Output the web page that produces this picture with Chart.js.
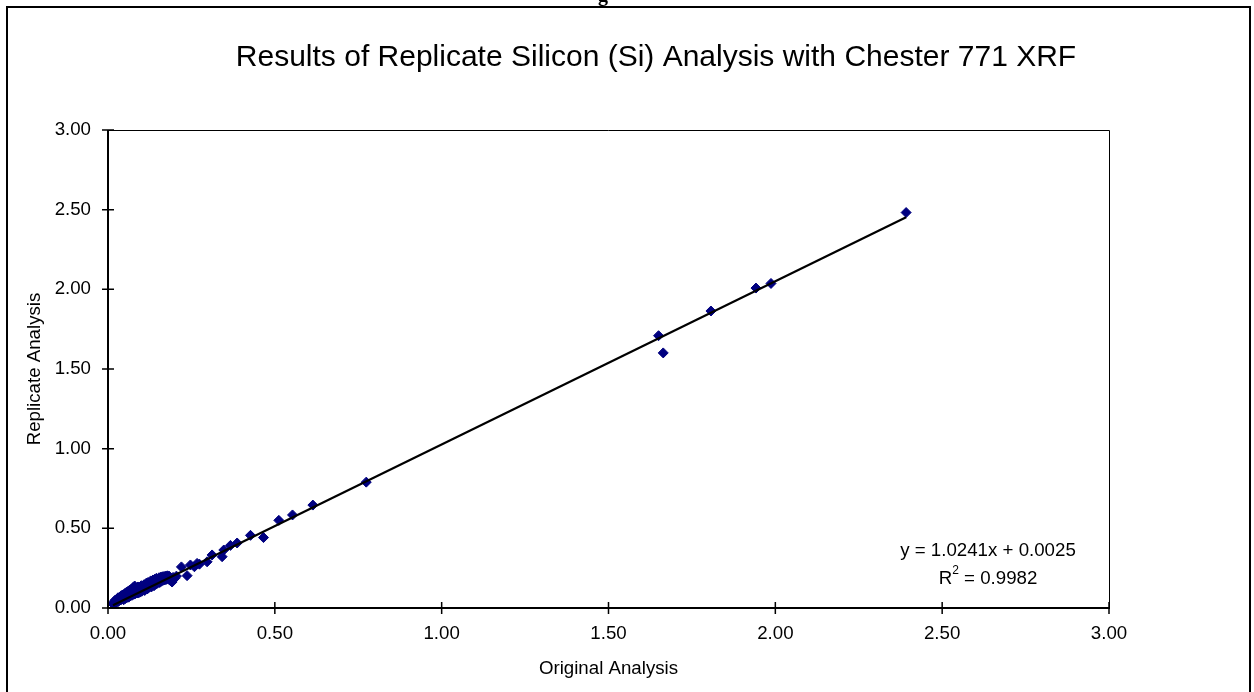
<!DOCTYPE html>
<html>
<head>
<meta charset="utf-8">
<title>Replicate Silicon (Si) Analysis</title>
<script src="https://cdn.jsdelivr.net/npm/chart.js@4.4.1/dist/chart.umd.min.js"></script>
<style>
  html, body { margin: 0; padding: 0; background: #fff; }
  canvas { display: block; }
</style>
</head>
<body>
<canvas id="c" width="1254" height="692"></canvas>
<script>
// Original vs. replicate Si results (same samples, two runs on the XRF)
const originalAnalysis = [
  0.015, 0.018, 0.020, 0.022, 0.025, 0.027, 0.030, 0.030, 0.033, 0.035,
  0.038, 0.040, 0.042, 0.045, 0.047, 0.050, 0.052, 0.055, 0.057, 0.060,
  0.062, 0.065, 0.067, 0.070, 0.072, 0.075, 0.077, 0.080, 0.082, 0.085,
  0.087, 0.090, 0.092, 0.095, 0.097, 0.100, 0.102, 0.105, 0.108, 0.110,
  0.112, 0.115, 0.118, 0.120, 0.122, 0.125, 0.128, 0.130, 0.133, 0.135,
  0.138, 0.140, 0.143, 0.145, 0.148, 0.150, 0.153, 0.155, 0.158, 0.160,
  0.163, 0.165, 0.168, 0.170, 0.173, 0.175, 0.178, 0.180, 0.183, 0.185,
  0.190, 0.192, 0.195, 0.200, 0.205, 0.220, 0.237, 0.247, 0.259, 0.267,
  0.274, 0.297, 0.312, 0.342, 0.347, 0.367, 0.387, 0.427, 0.466, 0.512,
  0.553, 0.614, 0.774, 1.650, 1.664, 1.807, 1.942, 1.987, 2.392
];
const replicateAnalysis = [
  0.025, 0.040, 0.030, 0.050, 0.036, 0.056, 0.040, 0.064, 0.046, 0.068,
  0.050, 0.078, 0.056, 0.082, 0.052, 0.090, 0.060, 0.098, 0.066, 0.104,
  0.068, 0.112, 0.076, 0.118, 0.080, 0.128, 0.086, 0.138, 0.090, 0.122,
  0.094, 0.132, 0.095, 0.125, 0.100, 0.140, 0.106, 0.130, 0.146, 0.110,
  0.138, 0.156, 0.120, 0.160, 0.128, 0.150, 0.170, 0.132, 0.158, 0.176,
  0.140, 0.180, 0.150, 0.186, 0.155, 0.176, 0.190, 0.160, 0.193, 0.168,
  0.196, 0.174, 0.198, 0.176, 0.200, 0.180, 0.202, 0.184, 0.200, 0.175,
  0.170, 0.163, 0.192, 0.186, 0.200, 0.258, 0.203, 0.270, 0.259, 0.280,
  0.275, 0.290, 0.333, 0.322, 0.364, 0.393, 0.408, 0.456, 0.442, 0.550,
  0.584, 0.646, 0.790, 1.709, 1.601, 1.864, 2.008, 2.037, 2.482
];

// Axis ticks (both axes share the same range)
const tickValues = [0.0, 0.5, 1.0, 1.5, 2.0, 2.5, 3.0];
const tickLabels = ['0.00', '0.50', '1.00', '1.50', '2.00', '2.50', '3.00'];

// Linear trendline reported for the data
const fitSlope = 1.0241;
const fitIntercept = 0.0025;
const fitRSquared = 0.9982;

const titleText = 'Results of Replicate Silicon (Si) Analysis with Chester 771 XRF';
const xTitleText = 'Original Analysis';
const yTitleText = 'Replicate Analysis';

const FONT = '"Liberation Sans", Arial, sans-serif';
const SMALL = 18.7;

const points = originalAnalysis.map((x, i) => ({ x: x, y: replicateAnalysis[i] }));
const xMin = Math.min(...originalAnalysis);
const xMax = Math.max(...originalAnalysis);
const trend = [
  { x: xMin, y: fitSlope * xMin + fitIntercept },
  { x: xMax, y: fitSlope * xMax + fitIntercept }
];

// Frame, axes with crossing tick marks, titles and the fit equation
const decorations = {
  id: 'decorations',
  beforeDraw(chart) {
    const c = chart.ctx;
    c.save();
    c.fillStyle = '#fff';
    c.fillRect(0, 0, chart.width, chart.height);
    c.restore();
  },
  afterDatasetsDraw(chart) {
    const c = chart.ctx;
    const xs = chart.scales.x, ys = chart.scales.y;
    const a = chart.chartArea;
    c.save();
    // plot area outline (top and right)
    c.strokeStyle = '#000';
    c.lineWidth = 1;
    c.beginPath();
    c.moveTo(a.left, a.top + 0.5);
    c.lineTo(a.right + 0.5, a.top + 0.5);
    c.lineTo(a.right + 0.5, a.bottom);
    c.stroke();
    // axes
    c.lineWidth = 2;
    c.beginPath();
    c.moveTo(a.left, a.top);
    c.lineTo(a.left, a.bottom);
    c.lineTo(a.right + 1, a.bottom);
    c.stroke();
    // tick marks crossing the axes
    c.lineWidth = 1.5;
    c.beginPath();
    tickValues.forEach(v => {
      const px = xs.getPixelForValue(v);
      c.moveTo(px, a.bottom - 6);
      c.lineTo(px, a.bottom + 6);
      const py = ys.getPixelForValue(v);
      c.moveTo(a.left - 6, py);
      c.lineTo(a.left + 6, py);
    });
    c.stroke();
    c.restore();
  },
  afterDraw(chart) {
    const c = chart.ctx;
    const a = chart.chartArea;
    c.save();
    // outer chart border
    c.strokeStyle = '#000';
    c.lineWidth = 2;
    c.strokeRect(7, 7, 1243, 700);

    // heading text above the chart border
    c.fillStyle = '#000';
    c.font = 'bold 20px "Liberation Serif", serif';
    c.textAlign = 'center';
    c.textBaseline = 'alphabetic';
    c.fillText('g', 603, 1);

    // chart title
    c.font = '30px ' + FONT;
    c.textAlign = 'center';
    c.textBaseline = 'middle';
    c.fillText(titleText, 656, 58);

    // axis titles
    c.font = SMALL + 'px ' + FONT;
    c.fillText(xTitleText, (a.left + a.right) / 2, 669);
    c.save();
    c.translate(35, (a.top + a.bottom) / 2);
    c.rotate(-Math.PI / 2);
    c.fillText(yTitleText, 0, 0);
    c.restore();

    // trendline equation and R-squared
    const cx = 988;
    c.textBaseline = 'alphabetic';
    c.textAlign = 'center';
    c.font = SMALL + 'px ' + FONT;
    c.fillText('y = ' + fitSlope.toFixed(4) + 'x + ' + fitIntercept.toFixed(4), cx, 556);
    const left = 'R';
    const right = ' = ' + fitRSquared.toFixed(4);
    const supFont = '12px ' + FONT;
    const wL = c.measureText(left).width;
    const wR = c.measureText(right).width;
    c.font = supFont;
    const wS = c.measureText('2').width;
    const total = wL + wS + wR;
    let x0 = cx - total / 2;
    c.textAlign = 'left';
    c.font = SMALL + 'px ' + FONT;
    c.fillText(left, x0, 584);
    c.font = supFont;
    c.fillText('2', x0 + wL, 574);
    c.font = SMALL + 'px ' + FONT;
    c.fillText(right, x0 + wL + wS, 584);
    c.restore();
  }
};

const tickFont = { family: FONT, size: SMALL };

new Chart(document.getElementById('c'), {
  type: 'scatter',
  data: {
    datasets: [
      {
        label: 'Linear (Si)',
        data: trend,
        showLine: true,
        borderColor: '#000',
        borderWidth: 2.2,
        pointRadius: 0,
        fill: false,
        order: 0
      },
      {
        label: 'Si',
        data: points,
        pointStyle: 'rectRot',
        pointRadius: 5,
        backgroundColor: '#000080',
        borderColor: '#000080',
        borderWidth: 1,
        order: 1
      }
    ]
  },
  options: {
    responsive: false,
    animation: false,
    events: [],
    layout: { padding: { left: 0, top: 130, right: 145, bottom: 0 } },
    plugins: {
      legend: { display: false },
      tooltip: { enabled: false },
      title: { display: false }
    },
    scales: {
      x: {
        type: 'linear',
        min: 0, max: 3,
        afterBuildTicks(s) { s.ticks = tickValues.map(v => ({ value: v })); },
        ticks: {
          callback: (v) => tickLabels[tickValues.indexOf(v)] ?? v.toFixed(2),
          font: tickFont, color: '#000', padding: 15, maxRotation: 0, autoSkip: false
        },
        grid: { display: false, drawTicks: false },
        border: { display: false },
        afterFit(s) { s.height = 84; }
      },
      y: {
        type: 'linear',
        min: 0, max: 3,
        afterBuildTicks(s) { s.ticks = tickValues.map(v => ({ value: v })); },
        ticks: {
          callback: (v) => tickLabels[tickValues.indexOf(v)] ?? v.toFixed(2),
          font: tickFont, color: '#000', padding: 17, autoSkip: false
        },
        grid: { display: false, drawTicks: false },
        border: { display: false },
        afterFit(s) { s.width = 108; }
      }
    }
  },
  plugins: [decorations]
});
</script>
</body>
</html>
